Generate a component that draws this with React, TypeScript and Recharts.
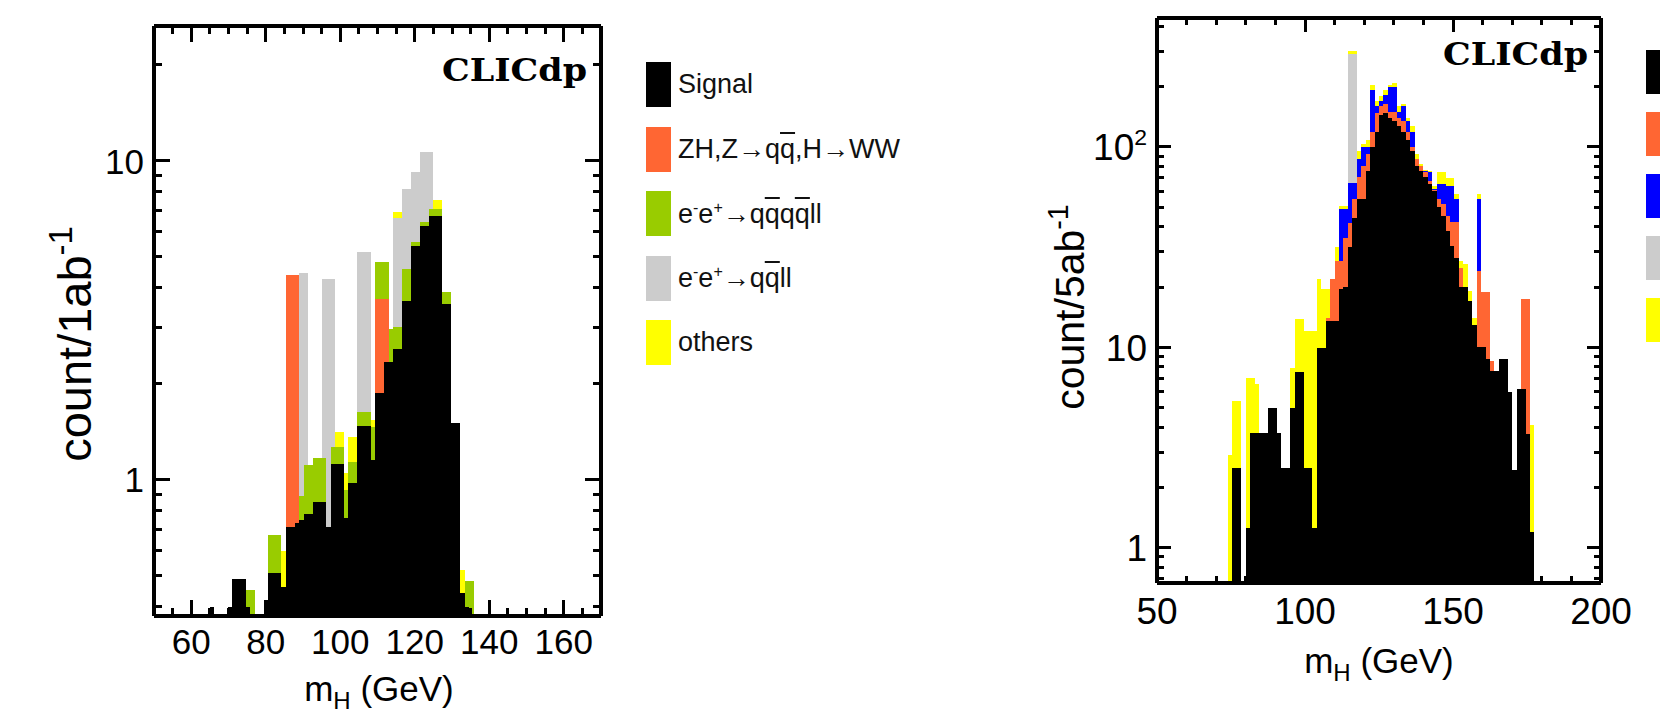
import React from 'react';
import { ComposedChart, Bar, XAxis, YAxis } from 'recharts';

const SANS = '"Liberation Sans", Arial, Helvetica, sans-serif';
const SERIF = '"DejaVu Serif", "Liberation Serif", serif';

const BLACK = '#000000';
const ORANGE = '#ff6633';
const GREEN = '#99cc00';
const GRAY = '#cccccc';
const YELLOW = '#ffff00';
const BLUE = '#0000ff';

// left panel: 1.2 GeV bins, grid starts at 50.6 GeV, series start at bin 12
const leftBins = { lo: 50.6, width: 1.2, count: 100, first: 12 };
const leftSignal = [
  0.40, 0, 0, 0, 0.40, 0.49, 0.49, 0.49, 0.40, 0,
  0, 0, 0.42, 0.51, 0.51, 0.51, 0.46, 0.71, 0.71, 0.73,
  0.75, 0.78, 0.78, 0.85, 0.85, 0.85, 0.71, 1.12, 1.12, 1.12,
  0.76, 0.98, 0.98, 1.47, 1.47, 1.47, 1.15, 1.87, 1.87, 2.34,
  2.34, 2.57, 2.57, 3.63, 3.63, 5.42, 5.42, 6.27, 6.27, 6.71,
  6.71, 6.71, 3.57, 3.57, 1.51, 1.51, 0.44, 0.40, 0.38, 0.38,
];
const leftZHWW = [
  0, 0, 0, 0, 0, 0, 0, 0, 0, 0,
  0, 0, 0, 0, 0, 0, 0, 3.68, 3.68, 3.66,
  0, 0, 0, 0, 0, 0, 0, 0, 0, 0,
  0, 0, 0, 0, 0, 0, 0, 1.81, 1.81, 1.34,
  0, 0, 0, 0, 0, 0, 0, 0, 0, 0,
  0, 0, 0, 0, 0, 0, 0, 0, 0, 0,
];
const leftQQQQLL = [
  0, 0, 0, 0, 0, 0, 0, 0, 0.05, 0.45,
  0, 0, 0, 0.16, 0.16, 0.16, 0, 0, 0, 0,
  0.14, 0.33, 0.33, 0.32, 0.32, 0.32, 0, 0.15, 0.15, 0.15,
  0.17, 0.16, 0.16, 0.16, 0.16, 0.16, 0.31, 1.13, 1.13, 1.13,
  0.64, 0.45, 0.45, 0.95, 0.95, 0.15, 0.15, 0.17, 0.17, 0.36,
  0.36, 0.36, 0.32, 0.32, 0, 0, 0, 0.08, 0.10, 0,
];
const leftQQLL = [
  0, 0, 0, 0, 0, 0, 0, 0, 0, 0,
  0, 0, 0, 0, 0, 0, 0, 0, 0, 0,
  3.55, 3.33, 0, 0, 0, 3.10, 3.56, 3.0, 0, 0,
  0, 0, 0, 3.56, 3.56, 3.56, 0, 0, 0, 0,
  0, 3.61, 3.61, 3.57, 3.57, 3.65, 3.65, 4.26, 4.26, 3.63,
  0, 0, 0, 0, 0, 0, 0, 0, 0, 0,
];
const leftOthers = [
  0, 0, 0, 0, 0, 0, 0, 0, 0, 0,
  0, 0, 0, 0, 0, 0, 0.14, 0, 0, 0,
  0, 0, 0, 0, 0, 0, 0, 0, 0.14, 0.14,
  0.12, 0.22, 0.22, 0, 0, 0, 0.08, 0, 0, 0,
  0, 0.27, 0.27, 0, 0, 0, 0, 0, 0, 0,
  0.46, 0.46, 0, 0, 0, 0, 0.08, 0, 0, 0,
];

// right panel: 1.5 GeV bins from 50 GeV, series start at bin 16
const rightBins = { lo: 50, width: 1.5, count: 100, first: 16 };
const rightSignal = [
  0, 2.5, 2.5, 0, 1.26, 3.75, 3.75, 3.75, 3.75, 5.0,
  5.0, 3.75, 2.5, 2.5, 5.0, 7.5, 7.5, 2.5, 2.5, 1.26,
  9.96, 9.96, 13.5, 13.5, 13.5, 19.6, 20, 31.6, 44, 55,
  55, 76, 100, 119, 145, 148, 140, 135, 127, 119,
  108, 95, 80, 76, 71, 65, 60, 50, 45, 38,
  32, 28, 20, 20, 17, 13, 10, 10, 8.7, 7.6,
  7.6, 8.7, 8.7, 6, 2.44, 6.2, 6.2, 3.7, 1.2,
];
const rightZHWW = [
  0, 0, 0, 0, 0, 0, 0, 0, 0, 0,
  0, 0, 0, 0, 0, 0, 0, 0, 0, 0,
  0, 0, 0.5, 8.5, 13.4, 7.3, 15, 10.1, 11, 16,
  25, 16, 19, 29, 15, 16, 10, 15, 13, 15,
  11, 5, 7, 4, 4, 3, 1, 5, 7, 7,
  10, 14, 5, 0, 0, 0, 14, 8.8, 10.1, 0.9,
  0, 0, 0, 0, 0, 0, 11.3, 13.8, 0,
];
const rightBlue = [
  0, 0, 0, 0, 0, 0, 0, 0, 0, 0,
  0, 0, 0, 0, 0, 0, 0, 0, 0, 0,
  0, 0, 0, 0, 0, 22.1, 14, 24.1, 10.8, 16,
  20, 8, 73, 12, 10, 17, 50, 50, 10, 26,
  15, 19, 0, 0, 1, 7, 1, 10, 13, 19,
  22, 13, 0, 0, 0, 0, 31, 0, 0, 0,
  0, 0, 0, 0, 0, 0, 0, 0, 0,
];
const rightQQLL = [
  0, 0, 0, 0, 0, 0, 0, 0, 0, 0,
  0, 0, 0, 0, 0, 0, 0, 0, 0, 0,
  0, 0, 0, 0, 0, 0, 0, 226, 226, 0,
  0, 0, 0, 0, 0, 0, 0, 0, 0, 0,
  0, 0, 0, 0, 0, 0, 0, 0, 0, 0,
  0, 0, 0, 0, 0, 0, 0, 0, 0, 0,
  0, 0, 0, 0, 0, 0, 0, 0, 0,
];
const rightOthers = [
  2.9, 2.9, 2.9, 0, 5.81, 3.32, 2.85, 0, 0, 0,
  0, 0, 0, 0, 2.9, 6.3, 6.3, 9.6, 9.6, 10.84,
  12, 9.6, 5.6, 0, 4.7, 1.9, 1.9, 8, 8, 8,
  4, 8, 12, 10, 10, 11, 4, 8, 10, 4,
  6, 8, 5, 2, 1, 1, 2, 10, 10, 6,
  6, 3, 2, 6, 2, 1, 3, 0, 0, 0,
  0, 0, 0, 0, 0, 0, 0, 0, 2.9,
];

const leftLayers = [
  { name: 'Signal', color: BLACK, values: leftSignal },
  { name: 'ZH,Z→qq̄,H→WW', color: ORANGE, values: leftZHWW },
  { name: 'e⁻e⁺→qq̄qq̄ll', color: GREEN, values: leftQQQQLL },
  { name: 'e⁻e⁺→qq̄ll', color: GRAY, values: leftQQLL },
  { name: 'others', color: YELLOW, values: leftOthers },
];
const rightLayers = [
  { name: 'Signal', color: BLACK, values: rightSignal },
  { name: 'ZH,Z→qq̄,H→WW', color: ORANGE, values: rightZHWW },
  { name: 'ZH,Z→qq̄,H→other', color: BLUE, values: rightBlue },
  { name: 'e⁻e⁺→qq̄ll', color: GRAY, values: rightQQLL },
  { name: 'others', color: YELLOW, values: rightOthers },
];

const leftXTicks = [55, 60, 65, 70, 75, 80, 85, 90, 95, 100, 105, 110, 115, 120, 125, 130, 135, 140, 145, 150, 155, 160, 165];
const leftXMajors = [60, 80, 100, 120, 140, 160];
const leftYTicks = [0.4, 0.5, 0.6, 0.7, 0.8, 0.9, 1, 2, 3, 4, 5, 6, 7, 8, 9, 10, 20];
const leftYMajors = [1, 10];

const rightXTicks = [50, 60, 70, 80, 90, 100, 110, 120, 130, 140, 150, 160, 170, 180, 190, 200];
const rightXMajors = [50, 100, 150, 200];
const rightYTicks = [0.7, 0.8, 0.9, 1, 2, 3, 4, 5, 6, 7, 8, 9, 10, 20, 30, 40, 50, 60, 70, 80, 90, 100, 200, 300, 400];
const rightYMajors = [1, 10, 100];

type Layer = { name: string; color: string; values: number[] };
type Bins = { lo: number; width: number; count: number; first: number };

function buildRows(bins: Bins, layers: Layer[]) {
  const rows: Record<string, number | null>[] = [];
  for (let k = 0; k < bins.count; k++) {
    const row: Record<string, number | null> = { x: bins.lo + (k + 0.5) * bins.width };
    let sum = 0;
    layers.forEach((l, j) => {
      const i = k - bins.first;
      sum += i >= 0 && i < l.values.length ? l.values[i] : 0;
      row['s' + j] = sum > 0 ? sum : null;
    });
    rows.push(row);
  }
  return rows;
}

type Side = 'bottom' | 'top' | 'left' | 'right';

function tickRenderer(side: Side, majors: number[], majorLen: number, minorLen: number, font: number, withLabel: boolean, gap: number) {
  return (props: any) => {
    const { x, y, payload } = props;
    const v = Number(payload.value);
    const major = majors.some((m) => Math.abs(m - v) < 1e-6);
    const len = major ? majorLen : minorLen;
    const ends: Record<Side, number[]> = {
      bottom: [x, y - len],
      top: [x, y + len],
      left: [x + len, y],
      right: [x - len, y],
    };
    const [x2, y2] = ends[side];
    let label: React.ReactNode = null;
    if (withLabel && major) {
      if (side === 'bottom') {
        label = (
          <text x={x} y={y + gap} textAnchor="middle" fontFamily={SANS} fontSize={font} fill="#000">
            {v}
          </text>
        );
      } else {
        const exp = Math.round(Math.log10(v));
        label = (
          <text x={x - gap} y={y + font * 0.36} textAnchor="end" fontFamily={SANS} fontSize={font} fill="#000">
            {exp >= 2 ? (
              <>
                10<tspan dy={-font * 0.42} fontSize={font * 0.62}>{exp}</tspan>
              </>
            ) : (
              v
            )}
          </text>
        );
      }
    }
    return (
      <g>
        <line x1={x} y1={y} x2={x2} y2={y2} stroke="#000" strokeWidth={3} />
        {label}
      </g>
    );
  };
}

type PanelCfg = {
  left: number;
  width: number;
  height: number;
  margin: { top: number; right: number; bottom: number; left: number };
  bins: Bins;
  layers: Layer[];
  xDomain: [number, number];
  xTicks: number[];
  xMajors: number[];
  yDomain: [number, number];
  yTicks: number[];
  yMajors: number[];
  majorLen: number;
  minorLen: number;
  frame: number;
  font: number;
  xLabelGap: number;
  yLabelGap: number;
};

function HistPanel({ cfg }: { cfg: PanelCfg }) {
  const rows = buildRows(cfg.bins, cfg.layers);
  const line = { stroke: '#000', strokeWidth: cfg.frame };
  const drawOrder = cfg.layers.map((l, j) => ({ key: 's' + j, color: l.color })).reverse();
  // every bin is one full band wide; the layers sit on top of each other
  const band = (cfg.width - cfg.margin.left - cfg.margin.right - 2) / ((cfg.xDomain[1] - cfg.xDomain[0]) / cfg.bins.width);
  return (
    <div style={{ position: 'absolute', left: cfg.left, top: 0, shapeRendering: 'crispEdges' }}>
      <ComposedChart width={cfg.width} height={cfg.height} data={rows} margin={cfg.margin}
        barGap={-(band + 0.001)} barCategoryGap={0}>
        <XAxis xAxisId="b" dataKey="x" type="number" domain={cfg.xDomain} allowDataOverflow ticks={cfg.xTicks} interval={0}
          height={1} tickSize={0} tickMargin={0} axisLine={line}
          tick={tickRenderer('bottom', cfg.xMajors, cfg.majorLen, cfg.minorLen, cfg.font, true, cfg.xLabelGap)} />
        <XAxis xAxisId="t" dataKey="x" orientation="top" type="number" domain={cfg.xDomain} allowDataOverflow ticks={cfg.xTicks} interval={0}
          height={1} tickSize={0} tickMargin={0} axisLine={line}
          tick={tickRenderer('top', cfg.xMajors, cfg.majorLen, cfg.minorLen, cfg.font, false, 0)} />
        <YAxis yAxisId="l" type="number" scale="log" domain={cfg.yDomain} allowDataOverflow ticks={cfg.yTicks} interval={0}
          width={1} tickSize={0} tickMargin={0} axisLine={line}
          tick={tickRenderer('left', cfg.yMajors, cfg.majorLen, cfg.minorLen, cfg.font, true, cfg.yLabelGap)} />
        <YAxis yAxisId="r" orientation="right" type="number" scale="log" domain={cfg.yDomain} allowDataOverflow ticks={cfg.yTicks} interval={0}
          width={1} tickSize={0} tickMargin={0} axisLine={line}
          tick={tickRenderer('right', cfg.yMajors, cfg.majorLen, cfg.minorLen, cfg.font, false, 0)} />
        {drawOrder.map((d) => (
          <Bar key={d.key} xAxisId="b" yAxisId="l" dataKey={d.key} fill={d.color} barSize={band}
            isAnimationActive={false} />
        ))}
      </ComposedChart>
    </div>
  );
}

function AxisTitles({ xCenter, xBase, yCenterX, yCenterY, yFont, per }: { xCenter: number; xBase: number; yCenterX: number; yCenterY: number; yFont: number; per: string }) {
  return (
    <>
      <text x={xCenter} y={xBase} textAnchor="middle" fontFamily={SANS} fontSize={35} fill="#000">
        m<tspan dy={8} fontSize={24}>H</tspan>
        <tspan dy={-8}> (GeV)</tspan>
      </text>
      <text x={yCenterX} y={yCenterY} transform={`rotate(-90 ${yCenterX} ${yCenterY})`} textAnchor="middle" fontFamily={SANS} fontSize={yFont} fill="#000">
        {per}
        <tspan dy={-yFont * 0.4} fontSize={yFont * 0.7}>-1</tspan>
      </text>
    </>
  );
}

function q() {
  return <span style={{ textDecoration: 'overline' }}>q</span>;
}

const legendLabels: React.ReactNode[] = [
  <>Signal</>,
  <>ZH,Z→q{q()},H→WW</>,
  <>e<sup style={{ fontSize: 16 }}>-</sup>e<sup style={{ fontSize: 16 }}>+</sup>→q{q()}q{q()}ll</>,
  <>e<sup style={{ fontSize: 16 }}>-</sup>e<sup style={{ fontSize: 16 }}>+</sup>→q{q()}ll</>,
  <>others</>,
];

function Legend({ layers, left, top, step, boxW, boxH, showText }: { layers: Layer[]; left: number; top: number; step: number; boxW: number; boxH: number; showText: boolean }) {
  return (
    <>
      {layers.map((l, i) => (
        <div key={l.name} style={{ position: 'absolute', left, top: top + i * step, height: boxH, display: 'flex', alignItems: 'center', whiteSpace: 'nowrap' }}>
          <div style={{ width: boxW, height: boxH, background: l.color }} />
          {showText && (
            <div style={{ marginLeft: 7, fontFamily: SANS, fontSize: 27, color: '#111', lineHeight: 1 }}>{legendLabels[i]}</div>
          )}
        </div>
      ))}
    </>
  );
}

const leftCfg: PanelCfg = {
  left: 0, width: 640, height: 718,
  margin: { top: 25, right: 38, bottom: 101, left: 153 },
  bins: leftBins, layers: leftLayers,
  xDomain: [50, 170], xTicks: leftXTicks, xMajors: leftXMajors,
  yDomain: [0.374, 26.5], yTicks: leftYTicks, yMajors: leftYMajors,
  majorLen: 16, minorLen: 8, frame: 4, font: 35, xLabelGap: 38, yLabelGap: 10,
};

const rightCfg: PanelCfg = {
  left: 1000, width: 660, height: 718,
  margin: { top: 17, right: 58, bottom: 134, left: 156 },
  bins: rightBins, layers: rightLayers,
  xDomain: [50, 200], xTicks: rightXTicks, xMajors: rightXMajors,
  yDomain: [0.667, 440], yTicks: rightYTicks, yMajors: rightYMajors,
  majorLen: 14, minorLen: 7, frame: 4.5, font: 37, xLabelGap: 41, yLabelGap: 10,
};

export default function App() {
  return (
    <div style={{ position: 'absolute', left: 0, top: 0, width: 1660, height: 718, overflow: 'hidden', background: '#fff' }}>
      <HistPanel cfg={leftCfg} />
      <HistPanel cfg={rightCfg} />
      <svg width={1660} height={718} style={{ position: 'absolute', left: 0, top: 0, pointerEvents: 'none' }}>
        <text x={442} y={81} fontFamily={SERIF} fontWeight="bold" fontSize={32} textLength={145} lengthAdjust="spacingAndGlyphs" fill="#000">CLICdp</text>
        <text x={1443} y={65} fontFamily={SERIF} fontWeight="bold" fontSize={31} textLength={145} lengthAdjust="spacingAndGlyphs" fill="#000">CLICdp</text>
        <AxisTitles xCenter={379} xBase={701} yCenterX={91} yCenterY={344} yFont={47} per="count/1ab" />
        <AxisTitles xCenter={1379} xBase={673} yCenterX={1084} yCenterY={307} yFont={41} per="count/5ab" />
      </svg>
      <Legend layers={leftLayers} left={646} top={62} step={64.5} boxW={25} boxH={45} showText />
      <Legend layers={rightLayers} left={1646} top={50} step={62} boxW={25} boxH={44} showText={false} />
    </div>
  );
}
